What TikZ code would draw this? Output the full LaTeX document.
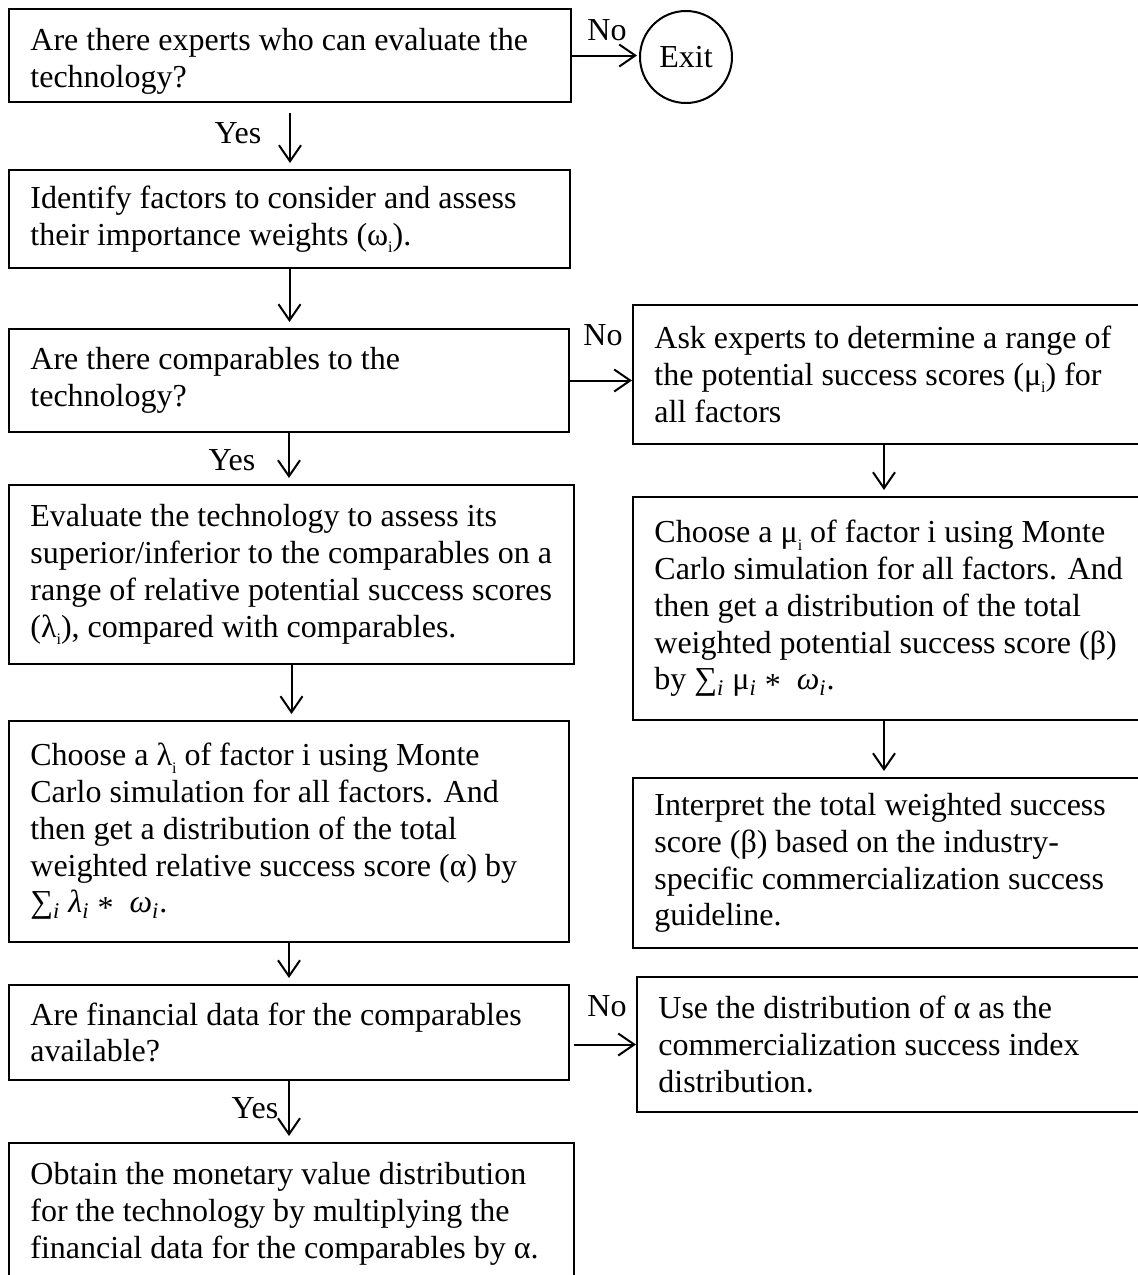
\documentclass[tikz,border=0pt]{standalone}
\usepackage{fontspec}
\setmainfont{Liberation Serif}
\usetikzlibrary{arrows.meta}
\newcommand\sbi{\raisebox{-0.5ex}{\fontsize{8}{8}\selectfont i}}
\newcommand\sit{\textsubscript{\textit{i}}}
\newcommand\opast{\raisebox{-0.35ex}{*}}
\begin{document}
\begin{tikzpicture}[x=0.5pt, y=-0.5pt, font=\fontsize{16}{18.4}\selectfont,
  frame/.style={draw, line width=1pt, rectangle, inner sep=0pt},
  txt/.style={anchor=west, align=left, inner xsep=11pt, inner ysep=0pt},
  arr/.style={line width=1pt, -{Straight Barb[length=8pt,width=11pt]}, shorten >=3pt}]
\useasboundingbox (0,0) rectangle (1137,1275);
% left column
\node[frame, minimum width=281pt, minimum height=46.5pt,
  label={[txt, yshift=-3pt]west:{Are there experts who can evaluate the\\technology?}}] (b1) at (290,55.5) {};
\node[frame, minimum width=280.5pt, minimum height=49pt,
  label={[txt]west:{Identify factors to consider and assess\\their importance weights (ω\sbi).}}] (b2) at (289.5,219) {};
\node[frame, minimum width=280pt, minimum height=51.5pt,
  label={[txt]west:{Are there comparables to the\\technology?}}] (b3) at (289,380.5) {};
\node[frame, minimum width=282.5pt, minimum height=89.5pt,
  label={[txt]west:{Evaluate the technology to assess its\\superior/inferior to the comparables on a\\range of relative potential success scores\\(λ\sbi), compared with comparables.}}] (b4) at (291.5,574.5) {};
\node[frame, minimum width=280pt, minimum height=110.5pt,
  label={[txt]west:{Choose a λ\sbi\ of factor i using Monte\\Carlo simulation for all factors. And\\then get a distribution of the total\\weighted relative success score (α) by\\∑\sit\ \textit{λ}\sit\ \opast\ \ \textit{ω}\sit.}}] (b5) at (289,831.5) {};
\node[frame, minimum width=280pt, minimum height=47.5pt,
  label={[txt]west:{Are financial data for the comparables\\available?}}] (b6) at (289,1032.5) {};
\node[frame, minimum width=282.5pt, minimum height=71pt,
  label={[txt]west:{Obtain the monetary value distribution\\for the technology by multiplying the\\financial data for the comparables by α.}}] (b7) at (291.5,1214) {};
% exit
\node[circle, draw, line width=1pt, minimum size=46pt, inner sep=0pt] (exit) at (686,57) {Exit};
% right column
\coordinate (rc) at (884,0);
\node[frame, minimum width=256pt, minimum height=69.5pt,
  label={[txt]west:{Ask experts to determine a range of\\the potential success scores (μ\sbi) for\\all factors}}] (r1) at (889,374.5) {};
\node[frame, minimum width=256pt, minimum height=111.5pt,
  label={[txt]west:{Choose a μ\sbi\ of factor i using Monte\\Carlo simulation for all factors. And\\then get a distribution of the total\\weighted potential success score (β)\\by ∑\sit\ μ\sit\ \opast\ \ \textit{ω}\sit.}}] (r2) at (889,608.5) {};
\node[frame, minimum width=256pt, minimum height=85pt,
  label={[txt]west:{Interpret the total weighted success\\score (β) based on the industry-\\specific commercialization success\\guideline.}}] (r3) at (889,863) {};
\node[frame, minimum width=254pt, minimum height=67.5pt,
  label={[txt]west:{Use the distribution of α as the\\commercialization success index\\distribution.}}] (r4) at (891,1044.5) {};
% connectors
\draw[arr, shorten <=5pt] (b1.south) -- (b1.south |- b2.north);
\draw[arr] (b2.south) -- (b2.south |- b3.north);
\draw[arr] (b3.south) -- (b3.south |- b4.north);
\draw[arr] (b4.south) -- (b4.south |- b5.north);
\draw[arr] (b5.south) -- (b5.south |- b6.north);
\draw[arr] (b6.south) -- (b6.south |- b7.north);
\draw[arr] (r1.south -| rc) -- (r2.north -| rc);
\draw[arr] (r2.south -| rc) -- (r3.north -| rc);
\draw[arr, shorten >=1pt] (b1.east) -- (b1.east -| exit.west);
\draw[arr, shorten >=0pt] (b3.east) -- (b3.east -| r1.west);
\draw[arr, shorten >=0pt, shorten <=2pt] (b6.east |- r4.west) -- (r4.west);
% branch labels
\node (no1) at (607,30) {No};
\node (no2) at (603,335) {No};
\node (no3) at (607,1006) {No};
\node (yes1) at (238,133) {Yes};
\node (yes2) at (232,460) {Yes};
\node (yes3) at (255,1108) {Yes};
\end{tikzpicture}
\end{document}
